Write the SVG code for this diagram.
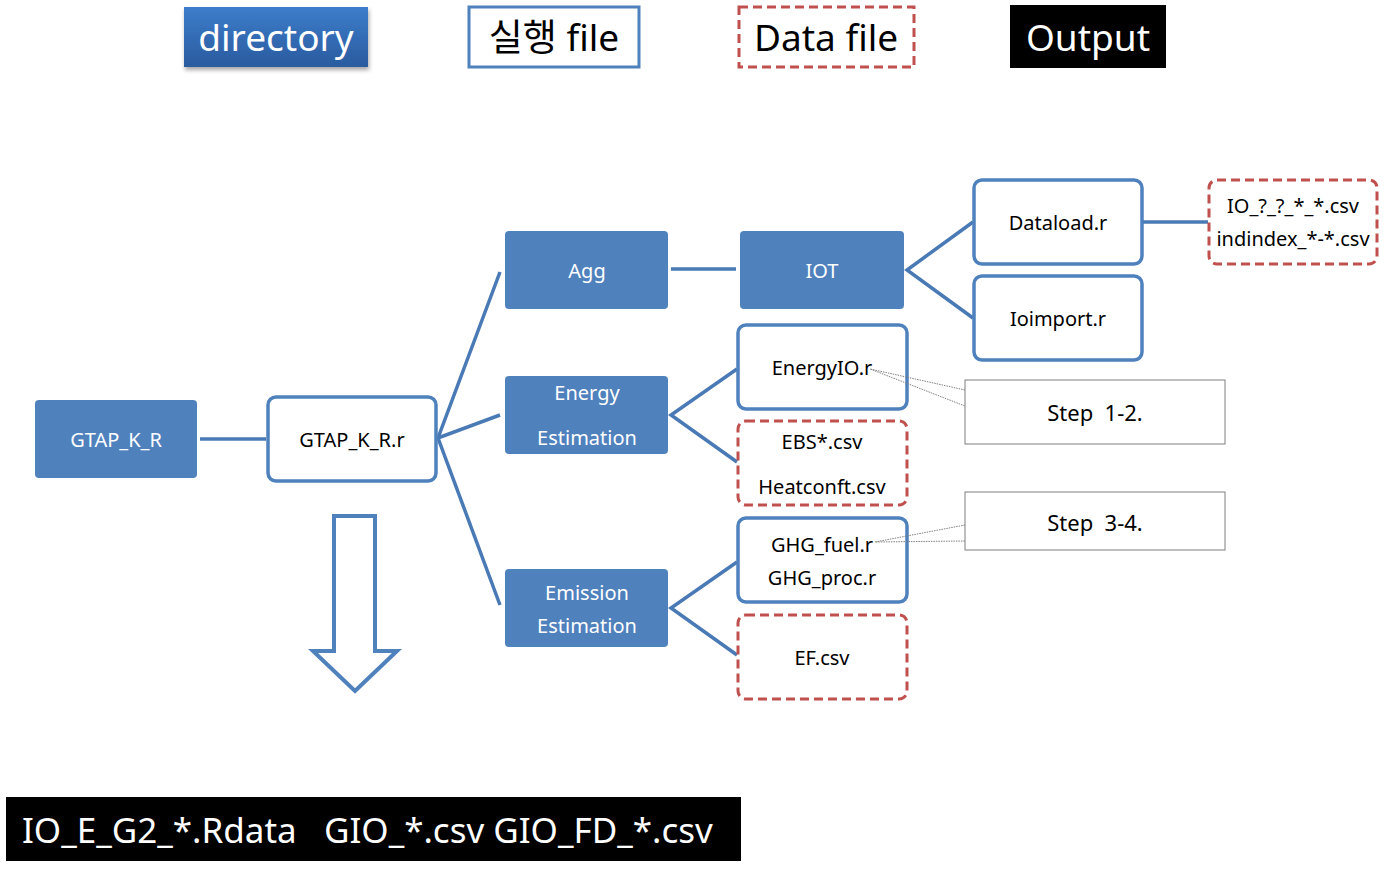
<svg xmlns="http://www.w3.org/2000/svg" width="1386" height="874" viewBox="0 0 1386 874">
<defs>
<linearGradient id="gDir" x1="0" y1="0" x2="0" y2="1">
<stop offset="0" stop-color="#3d7dcb"/>
<stop offset="1" stop-color="#2a5b9f"/>
</linearGradient>
<filter id="shadow" x="-10%" y="-20%" width="130%" height="160%">
<feDropShadow dx="1" dy="3" stdDeviation="2" flood-color="#000" flood-opacity="0.35"/>
</filter>
</defs>
<style>
text{font-family:"Noto Sans","Noto Sans CJK KR",sans-serif;text-anchor:middle}
.fill{fill:#4f81bd}
.white{fill:#fff;stroke:#4f81bd;stroke-width:3.5}
.data{fill:#fff;stroke:#c0504d;stroke-width:3;stroke-dasharray:9 5}
.wt{fill:#fff;font-size:20px}
.bt{fill:#000;font-size:20px}
.leg{font-size:37px}
.step{fill:#000;font-size:22px;white-space:pre}
.conn{stroke:#4a7ab5;stroke-width:3.5;fill:none}
.call{fill:#fff;stroke:#7f7f7f;stroke-width:1}
.calld{fill:none;stroke:#7f7f7f;stroke-width:1;stroke-dasharray:1.5 1}
</style>
<g id="legend">
<g id="leg-directory"><rect x="184" y="7" width="184" height="60" fill="url(#gDir)" filter="url(#shadow)"/><text x="276" y="51" class="leg" fill="#fff">directory</text></g>
<g id="leg-exec"><rect x="469" y="7" width="170" height="60" fill="#fff" stroke="#4f81bd" stroke-width="3"/><text x="554" y="51" class="leg" fill="#000">실행 file</text></g>
<g id="leg-data"><rect x="739" y="7" width="175" height="60" class="data"/><text x="826" y="51" class="leg" fill="#000">Data file</text></g>
<g id="leg-output"><rect x="1010" y="5" width="156" height="63" fill="#000"/><text x="1088" y="51" class="leg" fill="#fff">Output</text></g>
</g>
<g id="connectors">
<line class="conn" x1="200" y1="439" x2="266" y2="439"/>
<polyline class="conn" points="500,272 438,438 500,415"/>
<line class="conn" x1="438" y1="438" x2="500" y2="605"/>
<line class="conn" x1="671" y1="269" x2="736" y2="269"/>
<polyline class="conn" points="737,369 671,415 737,462"/>
<polyline class="conn" points="737,562 671,608 737,655"/>
<polyline class="conn" points="973,222 907,270 973,318"/>
<line class="conn" x1="1143" y1="222" x2="1208" y2="222"/>
</g>
<g id="n-gtapkr"><rect x="35" y="400" width="162" height="78" rx="4" class="fill"/><text x="116" y="447" class="wt">GTAP_K_R</text></g>
<g id="n-gtapkrr"><rect x="268" y="397" width="168" height="84" rx="8" class="white"/><text x="352" y="447" class="bt">GTAP_K_R.r</text></g>
<g id="n-agg"><rect x="505" y="231" width="163" height="78" rx="4" class="fill"/><text x="587" y="278" class="wt">Agg</text></g>
<g id="n-energy"><rect x="505" y="376" width="163" height="78" rx="4" class="fill"/><text x="587" y="400" class="wt">Energy</text><text x="587" y="445" class="wt">Estimation</text></g>
<g id="n-emission"><rect x="505" y="569" width="163" height="78" rx="4" class="fill"/><text x="587" y="600" class="wt">Emission</text><text x="587" y="633" class="wt">Estimation</text></g>
<g id="n-iot"><rect x="740" y="231" width="164" height="78" rx="4" class="fill"/><text x="822" y="278" class="wt">IOT</text></g>
<g id="n-energyio"><rect x="738" y="325" width="169" height="84" rx="8" class="white"/><text x="822" y="375" class="bt">EnergyIO.r</text></g>
<g id="n-ebs"><rect x="738" y="421" width="169" height="84" rx="8" class="data"/><text x="822" y="449" class="bt">EBS*.csv</text><text x="822" y="494" class="bt">Heatconft.csv</text></g>
<g id="n-ghg"><rect x="738" y="518" width="169" height="84" rx="8" class="white"/><text x="822" y="552" class="bt">GHG_fuel.r</text><text x="822" y="585" class="bt">GHG_proc.r</text></g>
<g id="n-ef"><rect x="738" y="615" width="169" height="84" rx="8" class="data"/><text x="822" y="665" class="bt">EF.csv</text></g>
<g id="n-dataload"><rect x="974" y="180" width="168" height="84" rx="8" class="white"/><text x="1058" y="230" class="bt">Dataload.r</text></g>
<g id="n-ioimport"><rect x="974" y="276" width="168" height="84" rx="8" class="white"/><text x="1058" y="326" class="bt">Ioimport.r</text></g>
<g id="n-iocsv"><rect x="1209" y="180" width="168" height="84" rx="8" class="data"/><text x="1293" y="213" class="bt">IO_?_?_*_*.csv</text><text x="1293" y="246" class="bt">indindex_*-*.csv</text></g>
<g id="callout-12">
<rect x="965" y="380" width="260" height="64" class="call"/>
<polyline class="calld" points="965,390 870,369 965,406"/>
<text x="1095" y="421" class="step" xml:space="preserve">Step  1-2.</text>
</g>
<g id="callout-34">
<rect x="965" y="492" width="260" height="58" class="call"/>
<polyline class="calld" points="965,525 875,542 965,541"/>
<text x="1095" y="531" class="step" xml:space="preserve">Step  3-4.</text>
</g>
<g id="big-arrow"><polygon points="334,516 375,516 375,651 397,651 355,691 313,651 334,651" fill="#fff" stroke="#4f81bd" stroke-width="4"/></g>
<g id="output-bottom"><rect x="6" y="797" width="735" height="64" fill="#000"/><text x="22" y="843" fill="#fff" style="font-size:35px;text-anchor:start;white-space:pre" xml:space="preserve">IO_E_G2_*.Rdata   GIO_*.csv GIO_FD_*.csv</text></g>
</svg>
